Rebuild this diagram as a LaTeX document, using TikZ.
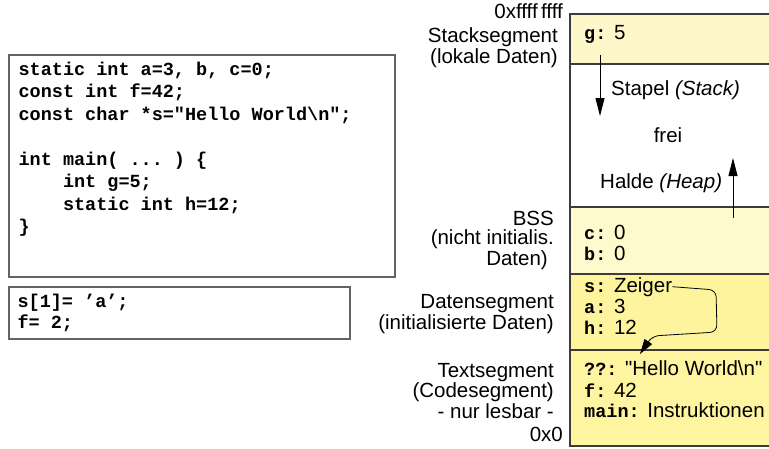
\documentclass[tikz,border=0pt]{standalone}
\usepackage{fontspec}
\setmainfont{Liberation Sans}
\setmonofont{Liberation Mono}
\usepackage{xcolor}
\definecolor{seg-stack}{RGB}{253,247,201}
\definecolor{seg-bss}{RGB}{255,249,206}
\definecolor{seg-data}{RGB}{255,244,158}
\definecolor{seg-text}{RGB}{255,244,160}
\definecolor{line-dark}{RGB}{60,60,60}
\definecolor{line-gray}{RGB}{100,100,100}
\usetikzlibrary{arrows.meta,positioning}

\newcommand{\memkey}[1]{{\ttfamily\bfseries\fontsize{18.5}{21}\selectfont #1}}

\begin{document}
\begin{tikzpicture}[
    x=1pt, y=-1pt,
    seg box/.style={
        draw=line-dark,
        line width=1.2pt,
        fill=#1,
        minimum width=210pt,
        inner sep=0pt,
        outer sep=0pt
    },
    code box/.style={
        draw=line-gray,
        line width=1.2pt,
        inner sep=0pt
    },
    code text/.style={
        font=\ttfamily\bfseries\fontsize{18.5}{22.5}\selectfont,
        align=left,
        inner sep=0pt,
        anchor=base west
    },
    seg label/.style={
        font=\fontsize{20.5}{#1}\selectfont,
        align=right,
        inner sep=0pt,
        anchor=base east
    },
    mem entry/.style={
        font=\fontsize{20.5}{21}\selectfont,
        anchor=base west,
        inner sep=0pt
    },
    grow arrow/.style={
        line width=0.9pt,
        -{Triangle[length=18pt,width=9pt]}
    },
    ptr arrow/.style={
        line width=0.8pt,
        rounded corners=7pt,
        -{Triangle[length=15pt,width=9pt]}
    }
]
\useasboundingbox (0,0) rectangle (769,448);
\clip (0,0) rectangle (769,448);

% Source code boxes (text anchored at its last line)
\node[code box, minimum width=386pt, minimum height=222pt] (codebox) at (202,166) {};
\node[code text] at ([xshift=10pt,yshift=45pt]codebox.south west) {%
static int a=3, b, c=0;\\
const int f=42;\\
const char *s="Hello World\textbackslash n";\\[22.5pt]
int main( ... ) \{\\
\ \ \ \ int g=5;\\
\ \ \ \ static int h=12;\\
\}};

\node[code box, minimum width=341pt, minimum height=52pt] (assignbox) at (179.5,313) {};
\node[code text, font=\ttfamily\bfseries\fontsize{18.5}{21}\selectfont] at ([xshift=9pt,yshift=11pt]assignbox.south west) {%
s[1]= ’a’;\\
f= 2;};

% Memory segments (top = high addresses)
\node[seg box=seg-stack, minimum height=50pt] (stackseg) at (675,39) {};
\node[seg box=white, minimum height=143pt, below=0pt of stackseg] (freeseg) {};
\node[seg box=seg-bss, minimum height=67pt, below=0pt of freeseg] (bssseg) {};
\node[seg box=seg-data, minimum height=76pt, below=0pt of bssseg] (dataseg) {};
\node[seg box=seg-text, minimum height=96pt, below=0pt of dataseg] (textseg) {};

% Segment labels (anchored at their last line)
\node[seg label=21] (hiaddr) at (563,18) {0xffff\,ffff};
\node[seg label=16] (stacklbl) at (558,63) {Stacksegment\\(lokale Daten)};
\node[seg label=19] (bsslbl) at (554,265) {BSS\\(nicht initialis.\hspace*{6pt}\\Daten)\hspace*{6pt}};
\node[seg label=21] (datalbl) at (554,329) {Datensegment\\(initialisierte Daten)};
\node[seg label=20.5] (textlbl) at (554,418) {Textsegment\\(Codesegment)\\- nur lesbar -};
\node[seg label=21] (loaddr) at (563,441) {0x0};

% Segment contents
\node[mem entry] (gval) at (584,39) {\memkey{g:} 5};
\node[mem entry] (stapel) at (611,95) {Stapel \textit{(Stack)}};
\node[mem entry, anchor=base] (frei) at (668,142) {frei};
\node[mem entry] (halde) at (600,188) {Halde \textit{(Heap)}};
\node[mem entry] (cval) at (584,239) {\memkey{c:} 0};
\node[mem entry] (bval) at (584,260) {\memkey{b:} 0};
\node[mem entry] (zeiger) at (584,292) {\memkey{s:} Zeiger};
\node[mem entry] (aval) at (584,313) {\memkey{a:} 3};
\node[mem entry] (hval) at (584,334) {\memkey{h:} 12};
\node[mem entry] (hello) at (584,375) {\memkey{??:} \textquotedbl Hello World\textbackslash n\textquotedbl};
\node[mem entry] (fval) at (584,397) {\memkey{f:} 42};
\node[mem entry] (mainval) at (584,417) {\memkey{main:} Instruktionen};

% Growth directions of stack and heap
\coordinate (stackfoot) at (600,55);
\coordinate (stacktip) at (600,116);
\coordinate (heapfoot) at (733,218);
\coordinate (heaptip) at (733,158);
\draw[grow arrow] (stackfoot) -- (stacktip);
\draw[grow arrow] (heapfoot) -- (heaptip);

% Pointer s -> string constant
\coordinate (strtarget) at (640,354);
\draw[ptr arrow] (zeiger.east) -- (716,290) -- (717,332) -- (652,336) -- (strtarget);

\end{tikzpicture}
\end{document}
